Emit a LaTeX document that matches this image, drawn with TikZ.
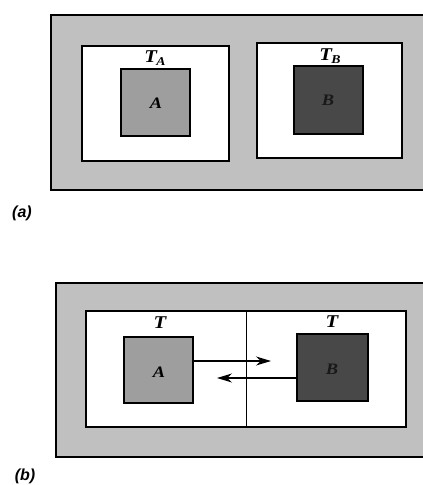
\documentclass[tikz,border=0pt]{standalone}
\usepackage{fontspec}
\setmainfont{Liberation Serif}[FakeStretch=1.15]
\setsansfont{Liberation Sans}
\usetikzlibrary{arrows.meta}
\definecolor{bggray}{RGB}{192,192,192}
\definecolor{agray}{RGB}{158,158,158}
\definecolor{bdark}{RGB}{72,72,72}
\newcommand{\subT}[1]{T\kern-0.5pt\raisebox{-0.3ex}{\fontsize{12}{13}\selectfont #1}}
\begin{document}
\begin{tikzpicture}[x=1pt,y=-1pt,
  box/.style={draw=black, line width=1.3pt, rectangle, inner sep=0pt},
  outerbox/.style={box, fill=bggray},
  room/.style={box, fill=white},
  bodyA/.style={box, fill=agray},
  bodyB/.style={box, fill=bdark},
  lbl/.style={font=\fontsize{16}{18}\selectfont\bfseries\itshape, inner sep=0pt},
  tlbl/.style={font=\fontsize{18}{20}\selectfont\bfseries\itshape, inner sep=0pt},
  caplabel/.style={font=\fontsize{16}{18}\selectfont\sffamily\bfseries\itshape, inner sep=0pt},
  flow/.style={line width=1.1pt, -{Stealth[length=15pt,width=9pt]}}]
\useasboundingbox (0,0) rectangle (423,485);
\clip (0,0) rectangle (423,485);
% (a)
\node[outerbox, minimum width=379pt, minimum height=175pt] (oa) at (240.5,102.5) {};
\node[room, minimum width=147pt, minimum height=115pt] (ra) at (155.5,103.5) {};
\node[room, minimum width=145pt, minimum height=115pt] (rb) at (329.5,100.5) {};
\node[bodyA, minimum width=69pt, minimum height=67pt] (a1) at (155.5,102.5) {};
\node[bodyB, minimum width=69pt, minimum height=68pt] (b1) at (328.5,100) {};
\node[lbl] (la1) at (156,103) {A};
\node[lbl, text=black!90] (lb1) at (328,100) {B};
\node[tlbl] (ta) at (155,58) {\subT{A}};
\node[tlbl] (tb) at (330,56) {\subT{B}};
\node[caplabel] (capa) at (22,213) {(a)};
% (b)
\node[outerbox, minimum width=374pt, minimum height=174pt] (ob) at (243,370) {};
\node[room, minimum width=320pt, minimum height=116pt] (rc) at (246,369) {};
\draw[line width=1pt] (rc.north) -- (rc.south);
\node[bodyA, minimum width=69pt, minimum height=66pt] (a2) at (158.5,370) {};
\node[bodyB, minimum width=71pt, minimum height=67pt] (b2) at (332.5,367.5) {};
\node[lbl] (la2) at (159,372) {A};
\node[lbl, text=black!90] (lb2) at (332,369) {B};
\node[tlbl] (t1) at (160,323) {T};
\node[tlbl] (t2) at (332,322) {T};
\coordinate (e1) at (271,361);
\coordinate (e2) at (217,378);
\draw[flow] (a2.east |- e1) -- (e1);
\draw[flow] (b2.west |- e2) -- (e2);
\node[caplabel] (capb) at (25,476) {(b)};
\end{tikzpicture}
\end{document}
